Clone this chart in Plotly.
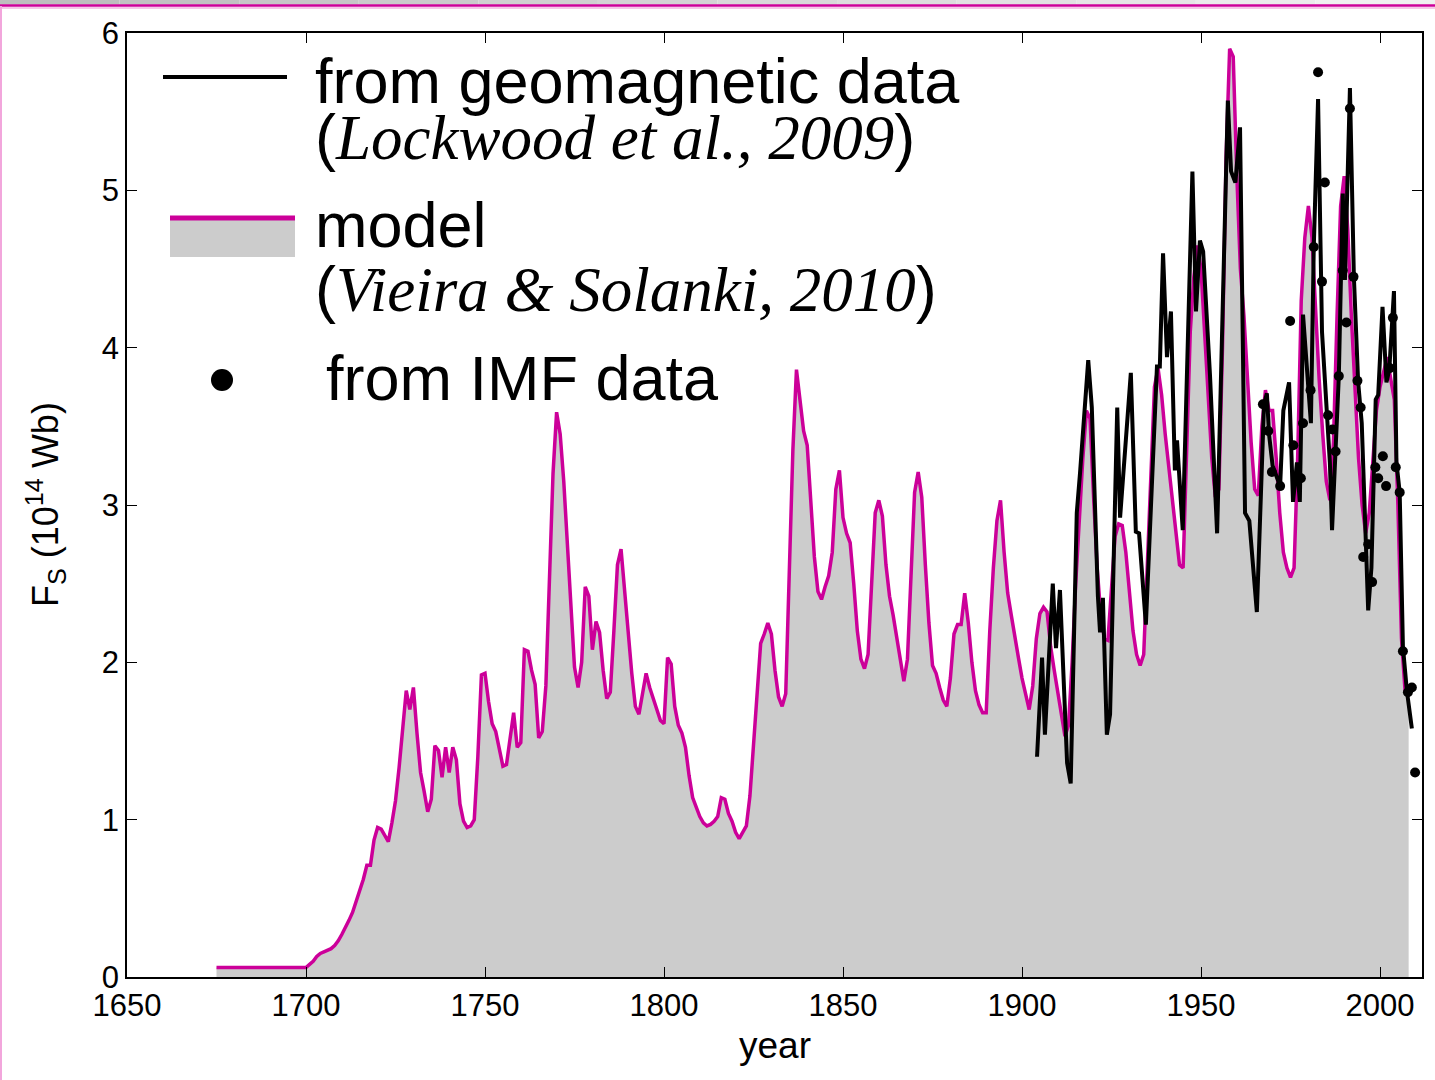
import plotly.graph_objects as go

# ---------------- data ----------------
model_years = list(range(1675, 2009))
model_vals = [
    0.06, 0.06, 0.06, 0.06, 0.06,
    0.06, 0.06, 0.06, 0.06, 0.06, 0.06, 0.06, 0.06, 0.06, 0.06,
    0.06, 0.06, 0.06, 0.06, 0.06, 0.06, 0.06, 0.06, 0.06, 0.06,
    0.06, 0.08, 0.10, 0.13, 0.15, 0.16, 0.17, 0.18, 0.20, 0.23,
    0.27, 0.31, 0.36, 0.41, 0.48, 0.56, 0.62, 0.71, 0.71, 0.87,
    0.95, 0.94, 0.90, 0.86, 0.98, 1.12, 1.33, 1.58, 1.82, 1.70,
    1.84, 1.55, 1.30, 1.18, 1.05, 1.13, 1.47, 1.44, 1.27, 1.46,
    1.30, 1.46, 1.38, 1.10, 0.99, 0.95, 0.96, 1.00, 1.40, 1.92,
    1.93, 1.75, 1.61, 1.56, 1.45, 1.34, 1.35, 1.50, 1.68, 1.46,
    1.49, 2.08, 2.07, 1.95, 1.86, 1.52, 1.56, 1.85, 2.60, 3.20,
    3.59, 3.45, 3.15, 2.75, 2.42, 1.97, 1.84, 2.00, 2.48, 2.42,
    2.08, 2.26, 2.19, 1.95, 1.77, 1.81, 2.20, 2.62, 2.72, 2.45,
    2.15, 1.93, 1.72, 1.67, 1.80, 1.93, 1.84, 1.76, 1.70, 1.63,
    1.61, 2.03, 1.99, 1.72, 1.60, 1.55, 1.46, 1.28, 1.14, 1.08,
    1.02, 0.98, 0.96, 0.97, 0.99, 1.02, 1.14, 1.13, 1.04, 0.99,
    0.92, 0.88, 0.92, 0.96, 1.15, 1.45, 1.75, 2.12, 2.18, 2.25,
    2.18, 1.95, 1.78, 1.72, 1.80, 2.60, 3.35, 3.86, 3.65, 3.47,
    3.38, 3.00, 2.67, 2.45, 2.40, 2.48, 2.55, 2.70, 3.10, 3.22,
    2.92, 2.82, 2.76, 2.50, 2.20, 2.02, 1.96, 2.05, 2.55, 2.95,
    3.03, 2.93, 2.62, 2.42, 2.30, 2.16, 2.02, 1.88, 2.02, 2.60,
    3.08, 3.21, 3.05, 2.62, 2.25, 1.98, 1.93, 1.84, 1.76, 1.72,
    1.90, 2.18, 2.24, 2.24, 2.44, 2.25, 2.00, 1.82, 1.73, 1.68,
    1.68, 2.20, 2.60, 2.90, 3.03, 2.70, 2.44, 2.30, 2.15, 2.03,
    1.90, 1.80, 1.70, 1.85, 2.15, 2.31, 2.35, 2.32, 2.10, 1.95,
    1.80, 1.65, 1.53, 1.60, 2.00, 2.50, 2.90, 3.30, 3.60, 3.55,
    3.05, 2.60, 2.30, 2.15, 2.14, 2.50, 2.80, 2.88, 2.87, 2.70,
    2.45, 2.20, 2.05, 1.98, 2.05, 2.60, 3.20, 3.75, 3.87, 3.70,
    3.45, 3.25, 3.05, 2.85, 2.62, 2.60, 3.40, 4.10, 4.45, 4.65,
    4.50, 4.10, 3.70, 3.30, 3.05, 3.10, 4.00, 5.20, 5.90, 5.85,
    5.10, 4.50, 4.20, 3.80, 3.40, 3.10, 3.06, 3.50, 3.73, 3.60,
    3.60, 3.30, 2.95, 2.70, 2.60, 2.54, 2.60, 3.30, 4.30, 4.70,
    4.90, 4.70, 4.20, 3.80, 3.45, 3.15, 3.03, 3.40, 4.20, 4.90,
    5.09, 4.75, 4.20, 3.70, 3.30, 3.00, 2.82, 2.95, 3.30, 3.60,
    3.75, 3.85, 3.94, 3.80, 3.67, 3.00, 2.15, 1.82, 1.78,
]

geo_years = [1904.2, 1905.6, 1906.4, 1908.6, 1909.5, 1910.6, 1912.6, 1913.6, 1915.3, 1916.2,
             1918.5, 1919.5, 1921.2, 1921.8, 1922.6, 1923.7, 1924.6, 1926.6, 1927.4, 1928.2,
             1930.4, 1931.8, 1932.7, 1934.6, 1937.7, 1938.5, 1939.4, 1940.5, 1941.6, 1942.7,
             1943.3, 1944.9, 1947.6, 1948.6, 1949.7, 1950.6, 1952.5, 1954.5, 1957.5, 1958.4,
             1959.6, 1960.9, 1962.3, 1963.5, 1965.6, 1967.6, 1968.4, 1969.0, 1970.0, 1972.1,
             1973.0, 1974.6, 1975.7, 1976.8, 1977.6, 1978.5, 1979.7, 1980.7, 1981.5, 1982.7,
             1983.8, 1985.0, 1986.0, 1986.6, 1987.6, 1988.5, 1989.6, 1990.2, 1991.6, 1992.7,
             1993.9, 1994.9, 1996.7, 1997.6, 1998.8, 1999.5, 2000.7, 2001.8, 2002.6, 2003.9,
             2004.6, 2005.5, 2006.4, 2007.5, 2008.9]
geo_vals = [1.40, 2.03, 1.54, 2.50, 2.09, 2.46, 1.36, 1.23, 2.95, 3.20,
            3.92, 3.62, 2.42, 2.19, 2.41, 1.54, 1.67, 3.62, 2.92, 3.18,
            3.84, 2.83, 2.82, 2.24, 3.88, 3.88, 4.60, 3.94, 4.23, 3.22,
            3.41, 2.84, 5.12, 4.23, 4.68, 4.61, 3.83, 2.82, 5.57, 5.12,
            5.05, 5.40, 2.95, 2.90, 2.32, 3.64, 3.71, 3.45, 3.25, 3.12,
            3.60, 3.78, 3.02, 3.27, 3.02, 4.21, 3.86, 3.52, 4.64, 5.58,
            4.10, 3.60, 3.27, 2.84, 3.34, 3.82, 4.98, 4.43, 5.65, 4.45,
            3.78, 3.52, 2.33, 2.60, 3.67, 3.70, 4.26, 3.78, 3.86, 4.36,
            3.27, 3.08, 2.10, 1.82, 1.58]

imf_years = [1967.3, 1968.8, 1969.8, 1972.1, 1974.9, 1975.8, 1977.1, 1977.9, 1978.5, 1980.6,
             1981.5, 1982.7, 1983.8, 1984.6, 1985.5, 1986.7, 1987.6, 1988.5, 1989.6, 1990.6,
             1991.6, 1992.6, 1993.7, 1994.6, 1995.3, 1996.7, 1997.8, 1998.7, 1999.5, 2000.8,
             2001.7, 2002.7, 2003.6, 2004.4, 2005.5, 2006.4, 2007.8, 2008.9, 2009.8]
imf_vals = [3.64, 3.47, 3.21, 3.12, 4.17, 3.38, 3.18, 3.17, 3.52, 3.73,
            4.64, 5.75, 4.42, 5.05, 3.57, 3.48, 3.34, 3.82, 4.49, 4.16,
            5.52, 4.45, 3.79, 3.62, 2.67, 2.75, 2.51, 3.24, 3.17, 3.31,
            3.12, 3.87, 4.19, 3.24, 3.08, 2.07, 1.81, 1.84, 1.30]

x_ticks = [1650, 1700, 1750, 1800, 1850, 1900, 1950, 2000]
y_ticks = [0, 1, 2, 3, 4, 5, 6]

# ---------------- layout geometry (pixels) ----------------
W, H = 1435, 1080
L, R, T, B = 127, 1422, 33, 977
MAGENTA = "#cc0099"
FILL = "#cccccc"


def px(x):
    return (x - L) / (R - L)


def py(y):
    return (B - y) / (B - T)


fig = go.Figure()

fig.add_trace(go.Scatter(x=model_years, y=model_vals, mode="lines",
                         line=dict(width=0, color=FILL), fill="tozeroy",
                         fillcolor=FILL, hoverinfo="skip", showlegend=False))
fig.add_trace(go.Scatter(x=model_years, y=model_vals, mode="lines",
                         line=dict(width=3.5, color=MAGENTA), showlegend=False))
fig.add_trace(go.Scatter(x=geo_years, y=geo_vals, mode="lines",
                         line=dict(width=4, color="black"), showlegend=False))
fig.add_trace(go.Scatter(x=imf_years, y=imf_vals, mode="markers",
                         marker=dict(size=10, color="black"), showlegend=False))

shapes = []
# slide decoration: top gradient strip, magenta rule, pink left border
nseg = 12
for i in range(nseg):
    g = int(190 + (240 - 190) * i / (nseg - 1))
    shapes.append(dict(type="rect", xref="paper", yref="paper",
                       x0=px(i * W / nseg), x1=px((i + 1) * W / nseg),
                       y0=py(4.5), y1=py(0), line=dict(width=0),
                       fillcolor=f"rgb({g},{g},{g})", layer="above"))
shapes.append(dict(type="line", xref="paper", yref="paper", x0=px(0), x1=px(W),
                   y0=py(5.5), y1=py(5.5), line=dict(color=MAGENTA, width=2.5)))
shapes.append(dict(type="line", xref="paper", yref="paper", x0=px(0), x1=px(W),
                   y0=py(8), y1=py(8), line=dict(color="#f2b6e0", width=1.5)))
shapes.append(dict(type="line", xref="paper", yref="paper", x0=px(1), x1=px(1),
                   y0=py(6), y1=py(H), line=dict(color="#f2a6dc", width=2)))

# legend samples
shapes.append(dict(type="line", xref="paper", yref="paper", x0=px(163), x1=px(287),
                   y0=py(77), y1=py(77), line=dict(color="black", width=4)))
shapes.append(dict(type="rect", xref="paper", yref="paper", x0=px(170), x1=px(295),
                   y0=py(257), y1=py(220), line=dict(width=0), fillcolor=FILL))
shapes.append(dict(type="line", xref="paper", yref="paper", x0=px(170), x1=px(295),
                   y0=py(218), y1=py(218), line=dict(color=MAGENTA, width=5)))
shapes.append(dict(type="circle", xref="paper", yref="paper", x0=px(211), x1=px(233),
                   y0=py(391), y1=py(369), line=dict(width=0), fillcolor="black"))

SANS = "Liberation Sans, Arial, sans-serif"
SERIF = "Liberation Serif, Times New Roman, serif"
ann = []


def txt(x, y, s, size=63, family=SANS):
    ann.append(dict(x=px(x), y=py(y), xref="paper", yref="paper", text=s,
                    showarrow=False, xanchor="left", yanchor="middle",
                    font=dict(size=size, family=family, color="black")))


txt(313, 81, "from geomagnetic data")
txt(313, 137, f"(<i><span style='font-family:{SERIF}'>Lockwood et al., 2009</span></i>)")
txt(313, 225, "model")
txt(313, 289, f"(<i><span style='font-family:{SERIF}'>Vieira &amp; Solanki, 2010</span></i>)")
txt(324, 378, "from IMF data")

# y-axis title
ann.append(dict(x=px(45), y=py(505), xref="paper", yref="paper",
                text="F<sub>S</sub> (10<sup>14</sup> Wb)", textangle=-90,
                showarrow=False, xanchor="center", yanchor="middle",
                font=dict(size=36, family=SANS, color="black")))
# x-axis title
ann.append(dict(x=px(775), y=py(1045), xref="paper", yref="paper", text="year",
                showarrow=False, xanchor="center", yanchor="middle",
                font=dict(size=37, family=SANS, color="black")))

fig.update_layout(
    width=W, height=H,
    margin=dict(l=L, r=W - R, t=T, b=H - B, pad=0),
    paper_bgcolor="white", plot_bgcolor="white",
    showlegend=False,
    shapes=shapes, annotations=ann,
    font=dict(family=SANS, color="black"),
)
fig.update_xaxes(range=[1650, 1650 + (R - L) / 3.58], tickvals=x_ticks,
                 ticktext=[str(v) for v in x_ticks],
                 showgrid=False, zeroline=False, showline=True, linecolor="black",
                 linewidth=1.5, mirror="ticks", ticks="inside", ticklen=10,
                 tickcolor="black", tickwidth=1, tickfont=dict(size=31, family=SANS))
fig.update_yaxes(range=[0, 6], tickvals=y_ticks, ticktext=[str(v) for v in y_ticks],
                 showgrid=False, zeroline=False, showline=True, linecolor="black",
                 linewidth=1.5, mirror="ticks", ticks="inside", ticklen=10,
                 tickcolor="black", tickwidth=1, tickfont=dict(size=31, family=SANS))

fig.write_html("out.html", config={"displayModeBar": False},
               post_script="document.body.style.margin='0';")
